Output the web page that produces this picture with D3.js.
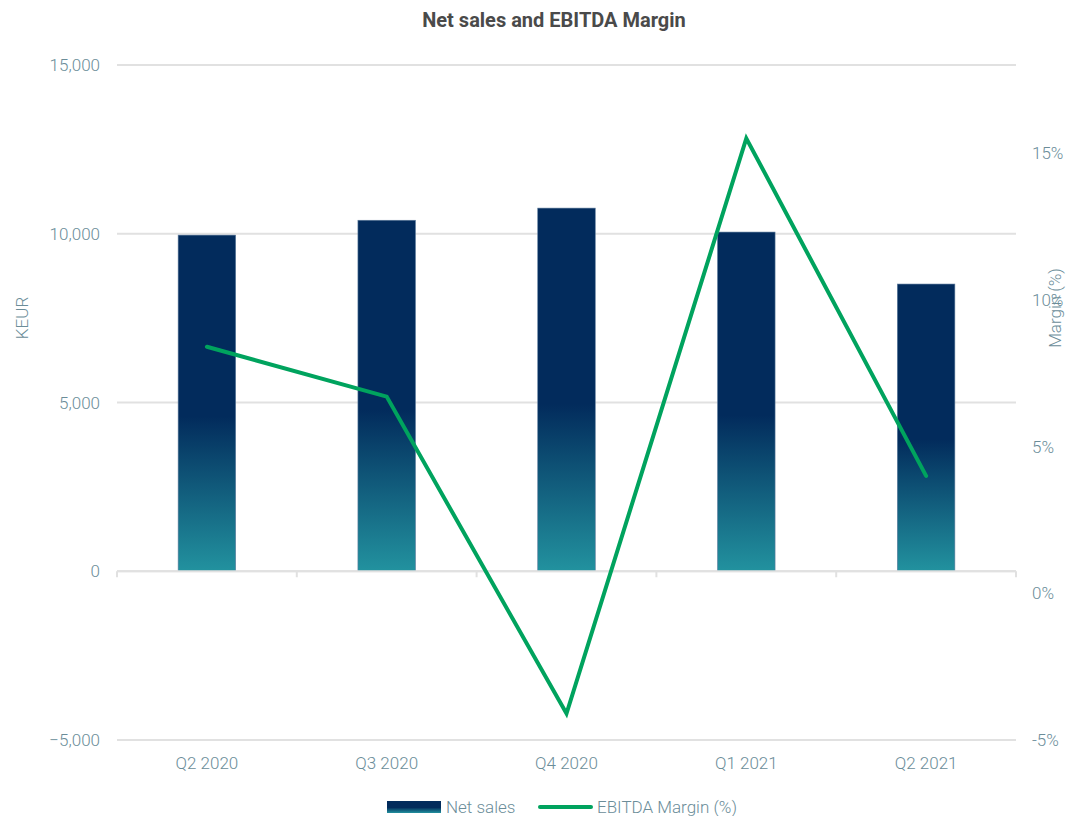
<!DOCTYPE html>
<html>
<head>
<meta charset="utf-8">
<script src="https://cdn.jsdelivr.net/npm/d3@7"></script>
<style>
  body { margin: 0; background: #fff; }
  svg { font-family: Roboto, "Noto Sans", sans-serif; }
</style>
</head>
<body>
<svg id="chart" width="1066" height="816"></svg>
<script>
// data
const quarters = ['Q2 2020', 'Q3 2020', 'Q4 2020', 'Q1 2021', 'Q2 2021'];
const netSales = [9960, 10400, 10760, 10050, 8510];      // KEUR
const ebitdaMargin = [8.4, 6.7, -4.1, 15.5, 4.0];       // %
const salesTicks = [-5000, 0, 5000, 10000, 15000];
const marginTicks = [-5, 0, 5, 10, 15];

const svg = d3.select('#chart');
const plotLeft = 117, plotRight = 1016, plotTop = 65, plotBottom = 740;
const labelColor = '#6b8d99';
const gridColor = '#e1e1e1';
const fs = 17;

const x = d3.scaleBand().domain(quarters).range([plotLeft, plotRight]).paddingInner(0).paddingOuter(0);
const y = d3.scaleLinear().domain([-5000, 15000]).range([plotBottom, plotTop]);
const y2 = d3.scaleLinear().domain([-5, 18]).range([plotBottom, plotTop]);

// gradient for the bars
const defs = svg.append('defs');
const grad = defs.append('linearGradient')
  .attr('id', 'barGrad').attr('x1', 0).attr('y1', 0).attr('x2', 0).attr('y2', 1);
grad.append('stop').attr('offset', '0%').attr('stop-color', '#022b5c');
grad.append('stop').attr('offset', '54%').attr('stop-color', '#022b5c');
grad.append('stop').attr('offset', '100%').attr('stop-color', '#22929f');

// title
svg.append('text')
  .attr('x', 554).attr('y', 27)
  .attr('text-anchor', 'middle')
  .attr('font-size', 20).attr('font-weight', 700)
  .attr('fill', '#4a4a4a')
  .text('Net sales and EBITDA Margin');

// gridlines
svg.append('g').selectAll('line')
  .data(salesTicks)
  .join('line')
  .attr('x1', plotLeft).attr('x2', plotRight)
  .attr('y1', d => y(d)).attr('y2', d => y(d))
  .attr('stroke', gridColor).attr('stroke-width', 2);

// left axis labels
svg.append('g').selectAll('text')
  .data(salesTicks)
  .join('text')
  .attr('x', 100).attr('y', d => y(d) + 6)
  .attr('text-anchor', 'end')
  .attr('font-size', fs).attr('font-weight', 300)
  .attr('fill', labelColor)
  .text(d => d3.format(',')(d));

// right axis labels
svg.append('g').selectAll('text')
  .data(marginTicks)
  .join('text')
  .attr('x', 1032).attr('y', d => y2(d) + 6)
  .attr('font-size', fs).attr('font-weight', 300)
  .attr('fill', labelColor)
  .text(d => d + '%');

// axis titles
svg.append('text')
  .attr('transform', 'translate(28,318) rotate(-90)')
  .attr('text-anchor', 'middle')
  .attr('font-size', fs).attr('font-weight', 300)
  .attr('fill', labelColor)
  .text('KEUR');
svg.append('text')
  .attr('transform', 'translate(1061,308) rotate(-90)')
  .attr('text-anchor', 'middle')
  .attr('font-size', fs).attr('font-weight', 300)
  .attr('fill', labelColor)
  .text('Margin (%)');

// bars
svg.append('g').selectAll('rect')
  .data(netSales)
  .join('rect')
  .attr('x', (d, i) => x(quarters[i]) + x.bandwidth() * 0.34)
  .attr('width', x.bandwidth() * 0.32)
  .attr('y', d => y(d))
  .attr('height', d => y(0) - y(d))
  .attr('fill', 'url(#barGrad)')
  .attr('stroke', '#5d7b9c').attr('stroke-width', 0.6);

// category axis at zero
const xAxis = svg.append('g').attr('transform', `translate(0,${y(0)})`);
xAxis.append('line').attr('x1', plotLeft).attr('x2', plotRight)
  .attr('stroke', gridColor).attr('stroke-width', 2);
xAxis.selectAll('line.tick')
  .data(quarters.map(q => x(q)).concat([plotRight]))
  .join('line')
  .attr('class', 'tick')
  .attr('x1', d => d).attr('x2', d => d)
  .attr('y1', 0).attr('y2', 6)
  .attr('stroke', gridColor).attr('stroke-width', 2);

// category labels
svg.append('g').selectAll('text')
  .data(quarters)
  .join('text')
  .attr('x', d => x(d) + x.bandwidth() / 2)
  .attr('y', 769)
  .attr('text-anchor', 'middle')
  .attr('font-size', fs).attr('font-weight', 300)
  .attr('fill', labelColor)
  .text(d => d);

// margin line
const line = d3.line()
  .x((d, i) => x(quarters[i]) + x.bandwidth() / 2)
  .y(d => y2(d));
svg.append('path')
  .datum(ebitdaMargin)
  .attr('d', line)
  .attr('fill', 'none')
  .attr('stroke', '#00a35e')
  .attr('stroke-width', 4)
  .attr('stroke-linecap', 'round')
  .attr('stroke-linejoin', 'miter');

// legend
const legend = svg.append('g').attr('transform', 'translate(0,807)');
legend.append('rect')
  .attr('x', 387).attr('y', -6).attr('width', 54).attr('height', 12)
  .attr('fill', 'url(#barGrad)');
legend.append('text')
  .attr('x', 446).attr('y', 6)
  .attr('font-size', fs).attr('font-weight', 300)
  .attr('fill', labelColor)
  .text('Net sales');
legend.append('line')
  .attr('x1', 540).attr('x2', 591).attr('y1', 0).attr('y2', 0)
  .attr('stroke', '#00a35e').attr('stroke-width', 4)
  .attr('stroke-linecap', 'round');
legend.append('text')
  .attr('x', 597).attr('y', 6)
  .attr('font-size', fs).attr('font-weight', 300)
  .attr('fill', labelColor)
  .text('EBITDA Margin (%)');
</script>
</body>
</html>
